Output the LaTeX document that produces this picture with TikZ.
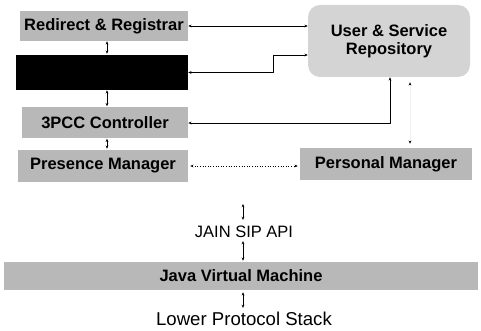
\documentclass[tikz,border=0pt]{standalone}
\usepackage{fontspec}
\setmainfont{Liberation Sans}
\usetikzlibrary{arrows.meta,positioning}
\begin{document}
\begin{tikzpicture}[x=1pt,y=-1pt,line join=round,>={Stealth[length=3.2pt,width=2.8pt]},line width=0.6pt]
	\tikzset{layer/.style={fill=black!28,inner sep=0pt,font=\bfseries\fontsize{16.5}{18}\selectfont},
		plain/.style={font=\fontsize{16.5}{19}\selectfont,inner sep=1pt}}
	\useasboundingbox (0,0) rectangle (481,331);
	% upper stack
	\node[layer,minimum width=168pt,minimum height=30pt] (redir) at (104,26) {Redirect \& Registrar};
	\node[layer,fill=black,minimum width=172pt,minimum height=35pt] (hidden) at (102,72.5) {};
	\node[layer,minimum width=166pt,minimum height=31pt] (pcc) at (105,123) {3PCC Controller};
	\node[layer,minimum width=170pt,minimum height=32pt] (pres) at (103,166) {Presence Manager};
	\node[layer,fill=black!17,rounded corners=12pt,align=center,minimum width=162pt,minimum height=72pt] (repo) at (389,41) {User \& Service\\Repository};
	\node[layer,minimum width=172pt,minimum height=32pt] (pers) at (386,164) {Personal Manager};
	% lower stack
	\node[plain] (jain) at (244,232) {JAIN SIP API};
	\node[layer,minimum width=474pt,minimum height=28pt] (jvm) at (241,276) {Java Virtual Machine};
	\node[plain,font=\fontsize{18.6}{21}\selectfont] (lower) at (244,319) {Lower Protocol Stack};
	\coordinate (lx) at (107,0);
	\coordinate (bend) at (273,0);
	\coordinate (rb) at (390,0);
	\coordinate (rp) at (410,0);
	\coordinate (ax) at (243,0);
	\coordinate (api) at (243,204);
	% links
	\draw[<->] (redir.east) -- (redir.east -| repo.west);
	\draw[<->] (hidden.east) -- (hidden.east -| bend) |- ([yshift=-14pt]repo.west);
	\draw[<->] (pcc.east) -| (rb |- repo.south);
	\draw[black!6,{Stealth[black,length=3.2pt,width=2.8pt]}-{Stealth[black,length=3.2pt,width=2.8pt]},shorten <=5pt,shorten >=4pt] (rp |- repo.south) -- (rp |- pers.north);
	\foreach \a/\b in {redir/hidden,hidden/pcc,pcc/pres}
		\draw[<->,shorten >=1pt] (lx |- \a.south) -- (lx |- \b.north);
	\draw[<->,dotted,shorten <=2pt,shorten >=2pt] (pres.east) -- (pres.east -| pers.west);
	\draw[<->,shorten >=5pt] (api) -- (ax |- jain.north);
	\draw[<->,shorten <=2pt,shorten >=1pt] (ax |- jain.south) -- (ax |- jvm.north);
	\draw[<->,shorten <=2pt,shorten >=3pt] (ax |- jvm.south) -- (ax |- lower.north);
\end{tikzpicture}
\end{document}
